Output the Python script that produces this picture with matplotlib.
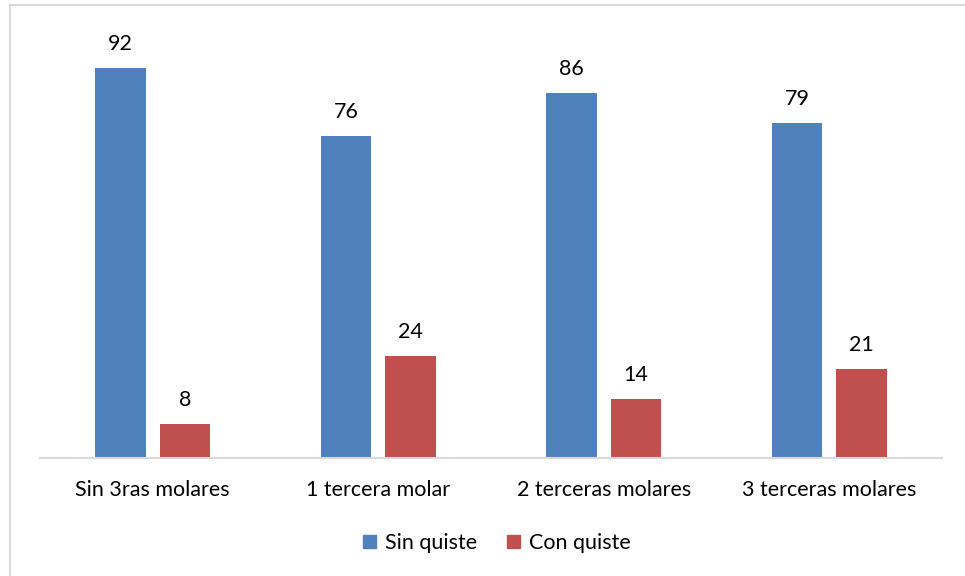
import numpy as np
import matplotlib.pyplot as plt
from matplotlib.patches import Rectangle, Patch

plt.rcParams['font.family'] = ['Lato', 'DejaVu Sans']

categorias = ["Sin 3ras molares", "1 tercera molar", "2 terceras molares", "3 terceras molares"]
sin_quiste = [92, 76, 86, 79]
con_quiste = [8, 24, 14, 21]

azul = "#4F81BD"
rojo = "#C0504D"

W, H = 965, 576
fig = plt.figure(figsize=(W / 100, H / 100), dpi=100)
ax = fig.add_axes([40 / W, 1 - 458 / H, 902 / W, 424 / H])

x = np.arange(len(categorias))
ancho = 0.226
desp = 0.143
b1 = ax.bar(x - desp, sin_quiste, ancho, color=azul)
b2 = ax.bar(x + desp, con_quiste, ancho, color=rojo)

for barras, vals in ((b1, sin_quiste), (b2, con_quiste)):
    for b, v in zip(barras, vals):
        ax.annotate(str(v), (b.get_x() + b.get_width() / 2, v),
                    xytext=(0, 10), textcoords="offset points",
                    ha="center", va="bottom", fontsize=15.5, color="#000000")

ax.set_xlim(-0.5, 3.5)
ax.set_ylim(0, 100)
ax.set_yticks([])
ax.set_xticks(x)
ax.set_xticklabels(categorias, fontsize=15.5)
ax.tick_params(axis="x", length=0, pad=16)
for s in ("top", "right", "left"):
    ax.spines[s].set_visible(False)
ax.spines["bottom"].set_color("#D9D9D9")
ax.spines["bottom"].set_linewidth(1.5)

# marco del gráfico
fig.patches.append(Rectangle((10 / W, -0.1), 1.2, 1 - 5 / H + 0.1,
                             transform=fig.transFigure, fill=False,
                             edgecolor="#D9D9D9", linewidth=1.5))

handles = [Patch(color=azul, label="Sin quiste"), Patch(color=rojo, label="Con quiste")]
fig.legend(handles=handles, loc="center", bbox_to_anchor=(497 / W, 1 - 543 / H),
           ncol=2, frameon=False, fontsize=15.5, handlelength=0.6, handleheight=0.6,
           handletextpad=0.4, columnspacing=1.4)

fig.savefig("out.png", dpi=100)
